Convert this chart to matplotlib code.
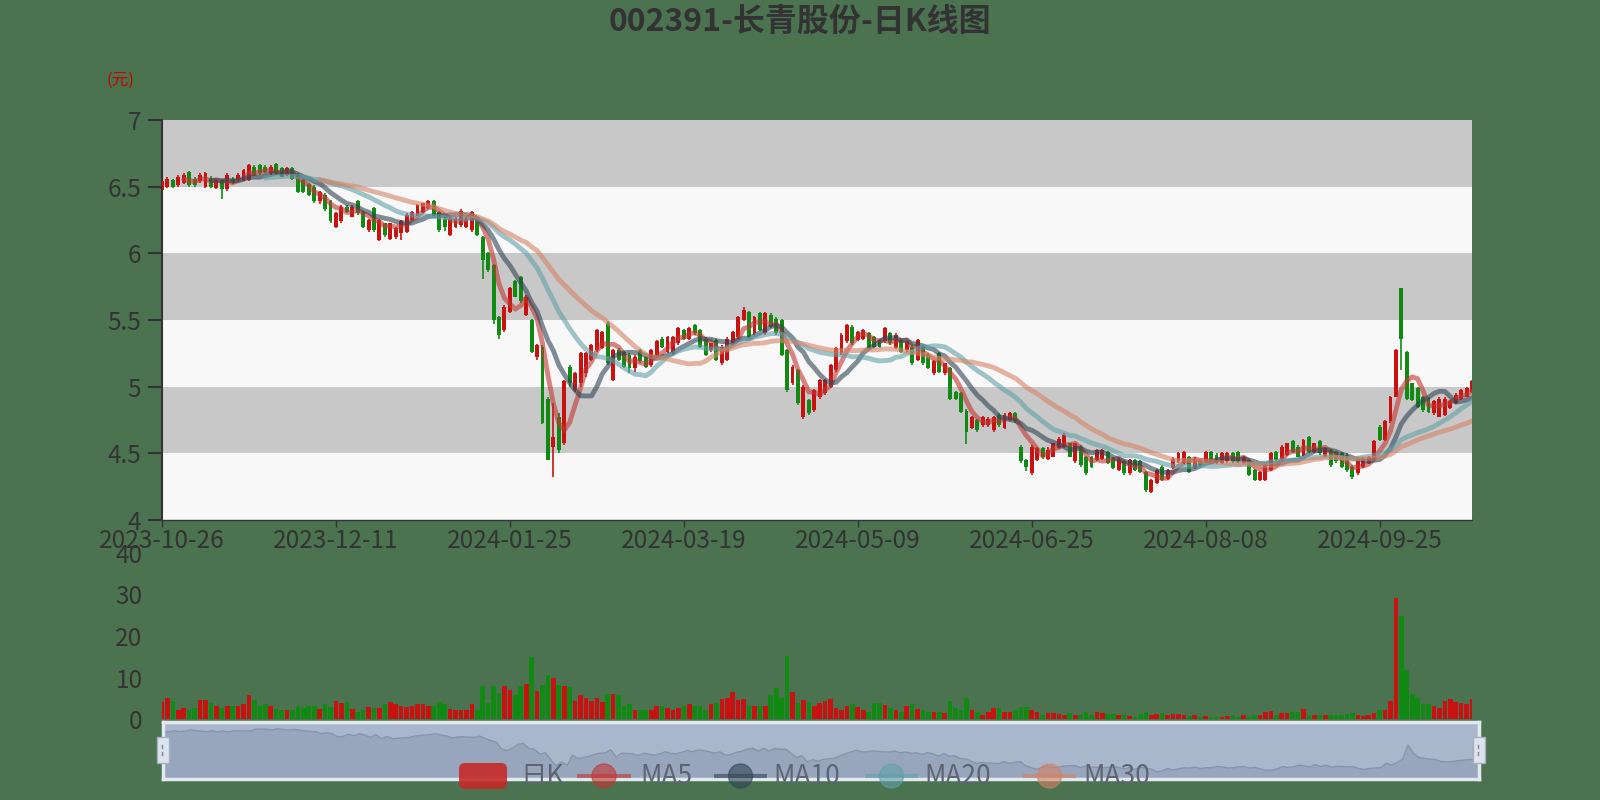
import numpy as np
import pandas as pd
import matplotlib
matplotlib.use('Agg')
import matplotlib.pyplot as plt
from matplotlib.patches import FancyBboxPatch, Rectangle, Circle

plt.rcParams['font.family'] = ['Noto Sans CJK SC', 'DejaVu Sans']

# ---------------- data ----------------
title = '002391-长青股份-日K线图'
unit_label = '(元)'
tick_labels = ['2023-10-26', '2023-12-11', '2024-01-25', '2024-03-19',
               '2024-05-09', '2024-06-25', '2024-08-08', '2024-09-25']
tick_step = 32
legend_names = ['日K', 'MA5', 'MA10', 'MA20', 'MA30']
ma_windows = [5, 10, 20, 30]

opens = [
    6.475, 6.50, 6.55, 6.51, 6.525, 6.61, 6.56, 6.54, 6.50, 6.56,
    6.49, 6.55, 6.48, 6.56, 6.55, 6.55, 6.55, 6.65, 6.66, 6.65,
    6.60, 6.67, 6.64, 6.59, 6.64, 6.59, 6.55, 6.52, 6.50, 6.39,
    6.44, 6.39, 6.20, 6.24, 6.35, 6.275, 6.39, 6.31, 6.175, 6.34,
    6.10, 6.225, 6.11, 6.125, 6.15, 6.16, 6.25, 6.29, 6.31, 6.34,
    6.39, 6.31, 6.26, 6.14, 6.20, 6.21, 6.20, 6.175, 6.25, 6.125,
    6.00, 5.91, 5.525, 5.425, 5.56, 5.79, 5.825, 5.54, 5.50, 5.225,
    5.30, 4.91, 4.55, 4.775, 4.575, 5.15, 4.975, 5.025, 5.10, 5.20,
    5.275, 5.29, 5.475, 5.05, 5.275, 5.26, 5.24, 5.14, 5.275, 5.225,
    5.16, 5.24, 5.36, 5.26, 5.25, 5.325, 5.425, 5.36, 5.46, 5.425,
    5.36, 5.275, 5.35, 5.175, 5.20, 5.325, 5.375, 5.50, 5.56, 5.40,
    5.55, 5.40, 5.54, 5.51, 5.50, 5.275, 5.025, 5.125, 4.775, 4.90,
    4.825, 4.925, 4.95, 5.00, 5.125, 5.25, 5.34, 5.45, 5.35, 5.36,
    5.40, 5.375, 5.35, 5.34, 5.40, 5.29, 5.35, 5.275, 5.30, 5.20,
    5.30, 5.24, 5.10, 5.25, 5.10, 5.14, 4.96, 4.95, 4.82, 4.69,
    4.75, 4.71, 4.71, 4.675, 4.79, 4.69, 4.75, 4.80, 4.55, 4.45,
    4.35, 4.45, 4.54, 4.46, 4.475, 4.54, 4.55, 4.575, 4.44, 4.55,
    4.475, 4.475, 4.45, 4.46, 4.51, 4.46, 4.375, 4.44, 4.35, 4.45,
    4.44, 4.36, 4.21, 4.275, 4.40, 4.31, 4.39, 4.44, 4.425, 4.475,
    4.39, 4.45, 4.44, 4.51, 4.49, 4.425, 4.44, 4.50, 4.51, 4.425,
    4.45, 4.375, 4.30, 4.30, 4.375, 4.51, 4.46, 4.49, 4.59, 4.55,
    4.49, 4.625, 4.51, 4.59, 4.475, 4.525, 4.51, 4.50, 4.49, 4.40,
    4.35, 4.40, 4.425, 4.45, 4.70, 4.60, 4.74, 4.925, 5.74, 5.26,
    5.025, 4.99, 4.925, 4.91, 4.80, 4.775, 4.79, 4.84, 4.875, 4.91,
    4.925, 4.96,
]
closes = [
    6.54, 6.56, 6.50, 6.575, 6.59, 6.51, 6.51, 6.59, 6.60, 6.50,
    6.55, 6.48, 6.59, 6.525, 6.59, 6.625, 6.66, 6.59, 6.60, 6.61,
    6.65, 6.60, 6.575, 6.64, 6.56, 6.46, 6.46, 6.44, 6.39, 6.46,
    6.33, 6.24, 6.30, 6.35, 6.31, 6.35, 6.30, 6.20, 6.25, 6.175,
    6.25, 6.14, 6.225, 6.19, 6.24, 6.29, 6.31, 6.36, 6.375, 6.39,
    6.29, 6.175, 6.20, 6.26, 6.26, 6.32, 6.26, 6.31, 6.14, 5.95,
    5.875, 5.50, 5.39, 5.60, 5.74, 5.675, 5.64, 5.675, 5.26, 5.31,
    4.73, 4.45, 4.62, 4.525, 5.04, 5.025, 5.10, 5.25, 5.25, 5.31,
    5.425, 5.41, 5.175, 5.275, 5.20, 5.15, 5.14, 5.22, 5.19, 5.15,
    5.275, 5.34, 5.30, 5.375, 5.375, 5.44, 5.36, 5.44, 5.40, 5.30,
    5.24, 5.325, 5.20, 5.30, 5.36, 5.41, 5.525, 5.575, 5.375, 5.525,
    5.425, 5.55, 5.45, 5.40, 5.24, 4.975, 5.15, 4.875, 5.00, 4.80,
    4.975, 5.05, 5.05, 5.16, 5.29, 5.39, 5.46, 5.325, 5.41, 5.425,
    5.29, 5.30, 5.30, 5.44, 5.325, 5.39, 5.26, 5.34, 5.175, 5.35,
    5.175, 5.14, 5.19, 5.11, 5.175, 4.91, 4.91, 4.81, 4.66, 4.775,
    4.675, 4.775, 4.76, 4.775, 4.71, 4.79, 4.80, 4.74, 4.44, 4.40,
    4.55, 4.54, 4.475, 4.525, 4.575, 4.61, 4.64, 4.475, 4.575, 4.41,
    4.35, 4.40, 4.525, 4.525, 4.425, 4.39, 4.46, 4.35, 4.45, 4.375,
    4.36, 4.225, 4.30, 4.375, 4.30, 4.375, 4.46, 4.50, 4.51, 4.36,
    4.46, 4.41, 4.51, 4.45, 4.425, 4.50, 4.50, 4.44, 4.44, 4.475,
    4.34, 4.30, 4.36, 4.41, 4.50, 4.45, 4.55, 4.575, 4.51, 4.475,
    4.60, 4.51, 4.575, 4.50, 4.54, 4.41, 4.44, 4.40, 4.375, 4.325,
    4.46, 4.46, 4.475, 4.59, 4.60, 4.74, 4.925, 5.275, 5.36, 4.91,
    4.90, 4.85, 4.825, 4.81, 4.89, 4.91, 4.91, 4.89, 4.94, 4.975,
    4.99, 5.04,
]
highs = [
    6.555, 6.57, 6.56, 6.585, 6.60, 6.62, 6.57, 6.60, 6.61, 6.58,
    6.56, 6.56, 6.60, 6.57, 6.60, 6.63, 6.67, 6.66, 6.67, 6.66,
    6.66, 6.68, 6.65, 6.65, 6.65, 6.60, 6.56, 6.53, 6.51, 6.47,
    6.45, 6.40, 6.31, 6.36, 6.36, 6.36, 6.40, 6.32, 6.26, 6.35,
    6.26, 6.23, 6.23, 6.20, 6.25, 6.30, 6.32, 6.37, 6.38, 6.40,
    6.40, 6.32, 6.27, 6.27, 6.27, 6.33, 6.27, 6.32, 6.26, 6.13,
    6.01, 5.92, 5.53, 5.61, 5.75, 5.80, 5.83, 5.69, 5.51, 5.32,
    5.31, 4.92, 4.875, 4.80, 5.05, 5.16, 5.11, 5.26, 5.26, 5.32,
    5.43, 5.42, 5.49, 5.28, 5.29, 5.27, 5.25, 5.24, 5.28, 5.23,
    5.28, 5.35, 5.37, 5.38, 5.38, 5.45, 5.43, 5.45, 5.47, 5.43,
    5.37, 5.33, 5.36, 5.31, 5.37, 5.42, 5.53, 5.60, 5.57, 5.53,
    5.56, 5.56, 5.55, 5.52, 5.51, 5.28, 5.16, 5.13, 5.01, 4.91,
    4.98, 5.06, 5.06, 5.17, 5.30, 5.40, 5.47, 5.46, 5.42, 5.43,
    5.41, 5.38, 5.36, 5.45, 5.41, 5.40, 5.36, 5.35, 5.31, 5.36,
    5.31, 5.25, 5.20, 5.26, 5.18, 5.15, 4.97, 4.96, 4.83, 4.78,
    4.76, 4.78, 4.77, 4.78, 4.80, 4.80, 4.81, 4.81, 4.56, 4.46,
    4.56, 4.55, 4.55, 4.55, 4.58, 4.62, 4.65, 4.58, 4.58, 4.56,
    4.48, 4.48, 4.53, 4.53, 4.52, 4.47, 4.47, 4.45, 4.46, 4.46,
    4.45, 4.37, 4.31, 4.38, 4.41, 4.38, 4.47, 4.51, 4.52, 4.48,
    4.47, 4.46, 4.52, 4.52, 4.50, 4.51, 4.51, 4.51, 4.52, 4.48,
    4.46, 4.38, 4.37, 4.42, 4.51, 4.52, 4.56, 4.58, 4.60, 4.56,
    4.61, 4.63, 4.58, 4.60, 4.55, 4.53, 4.52, 4.51, 4.50, 4.41,
    4.47, 4.47, 4.48, 4.60, 4.71, 4.75, 4.93, 5.28, 5.74, 5.27,
    5.03, 5.00, 4.93, 4.92, 4.90, 4.92, 4.92, 4.90, 4.95, 4.98,
    5.00, 5.05,
]
lows = [
    6.44, 6.49, 6.49, 6.50, 6.52, 6.50, 6.50, 6.53, 6.49, 6.49,
    6.48, 6.41, 6.47, 6.52, 6.54, 6.54, 6.54, 6.58, 6.59, 6.60,
    6.59, 6.59, 6.57, 6.58, 6.55, 6.45, 6.45, 6.43, 6.38, 6.37,
    6.32, 6.23, 6.19, 6.23, 6.30, 6.27, 6.29, 6.19, 6.16, 6.16,
    6.09, 6.12, 6.10, 6.11, 6.10, 6.15, 6.24, 6.28, 6.30, 6.33,
    6.28, 6.16, 6.17, 6.13, 6.19, 6.20, 6.19, 6.16, 6.13, 5.81,
    5.86, 5.47, 5.36, 5.41, 5.55, 5.67, 5.63, 5.53, 5.25, 5.20,
    4.72, 4.45, 4.32, 4.50, 4.56, 5.00, 4.96, 5.00, 5.07, 5.19,
    5.26, 5.28, 5.16, 5.04, 5.19, 5.14, 5.10, 5.11, 5.18, 5.14,
    5.15, 5.23, 5.29, 5.25, 5.24, 5.31, 5.35, 5.35, 5.39, 5.29,
    5.23, 5.26, 5.19, 5.16, 5.19, 5.31, 5.36, 5.49, 5.36, 5.39,
    5.42, 5.39, 5.44, 5.39, 5.23, 4.96, 5.01, 4.86, 4.76, 4.79,
    4.81, 4.91, 4.94, 4.99, 5.11, 5.24, 5.33, 5.31, 5.34, 5.35,
    5.28, 5.29, 5.29, 5.33, 5.31, 5.28, 5.25, 5.26, 5.16, 5.19,
    5.16, 5.13, 5.09, 5.10, 5.09, 4.90, 4.90, 4.80, 4.57, 4.68,
    4.66, 4.70, 4.70, 4.66, 4.70, 4.68, 4.74, 4.73, 4.43, 4.37,
    4.34, 4.44, 4.46, 4.45, 4.47, 4.53, 4.54, 4.47, 4.43, 4.40,
    4.34, 4.39, 4.44, 4.45, 4.42, 4.38, 4.37, 4.34, 4.34, 4.37,
    4.35, 4.21, 4.20, 4.27, 4.29, 4.30, 4.38, 4.43, 4.42, 4.35,
    4.38, 4.40, 4.43, 4.44, 4.42, 4.42, 4.43, 4.43, 4.43, 4.42,
    4.33, 4.29, 4.29, 4.29, 4.37, 4.44, 4.45, 4.48, 4.50, 4.47,
    4.48, 4.50, 4.50, 4.49, 4.47, 4.40, 4.43, 4.39, 4.36, 4.31,
    4.34, 4.39, 4.42, 4.44, 4.59, 4.59, 4.73, 4.92, 5.125, 4.90,
    4.89, 4.84, 4.81, 4.80, 4.79, 4.77, 4.78, 4.83, 4.87, 4.90,
    4.92, 4.95,
]
volumes = [
    4.1, 5.1, 4.3, 2.2, 2.7, 2.2, 2.7, 4.5, 4.5, 3.9,
    3.1, 2.7, 3.2, 3.1, 3.2, 3.7, 5.7, 4.5, 3.1, 3.5,
    3.1, 2.4, 2.2, 2.2, 2.1, 3.2, 2.7, 3.1, 3.2, 2.4,
    3.7, 2.9, 4.3, 3.9, 4.0, 2.4, 1.8, 2.2, 2.9, 2.7,
    2.7, 3.7, 4.0, 3.7, 3.2, 2.9, 3.2, 3.5, 3.5, 3.2,
    3.1, 4.0, 3.7, 2.4, 2.2, 2.2, 2.2, 3.5, 2.2, 7.9,
    3.9, 8.0, 6.3, 8.0, 6.9, 5.9, 7.9, 8.5, 14.9, 6.7,
    8.3, 10.7, 9.9, 8.3, 7.9, 7.7, 4.3, 5.9, 5.1, 4.3,
    5.1, 4.0, 6.1, 6.1, 5.9, 3.1, 3.5, 2.2, 2.2, 2.2,
    2.2, 3.2, 3.1, 2.7, 2.2, 2.7, 3.2, 3.5, 3.2, 3.1,
    2.2, 3.5, 3.9, 4.8, 5.1, 6.4, 4.5, 4.7, 3.1, 3.1,
    3.1, 3.1, 5.9, 7.5, 5.1, 15.1, 6.4, 3.9, 4.5, 4.0,
    3.2, 3.9, 4.3, 4.7, 2.7, 2.2, 3.1, 3.5, 2.9, 2.1,
    1.6, 3.9, 3.9, 3.3, 2.7, 2.2, 1.8, 3.2, 3.5, 2.4,
    2.1, 1.8, 1.6, 1.8, 1.4, 4.4, 2.7, 2.2, 5.1, 2.2,
    1.8, 1.0, 1.8, 2.7, 2.7, 1.6, 1.6, 2.2, 2.9, 2.9,
    2.2, 1.6, 1.0, 1.4, 1.4, 1.3, 1.0, 1.4, 1.0, 1.0,
    1.6, 1.0, 1.6, 1.4, 1.2, 1.2, 1.0, 1.0, 0.8, 0.6,
    1.2, 1.8, 1.0, 1.2, 1.4, 1.0, 1.3, 1.2, 1.0, 0.8,
    0.9, 0.6, 0.8, 0.6, 0.6, 0.6, 0.8, 1.0, 0.6, 1.0,
    0.8, 1.0, 1.0, 1.8, 2.0, 1.0, 1.4, 1.4, 1.6, 1.8,
    2.4, 1.0, 1.0, 0.9, 1.0, 1.0, 1.0, 1.0, 1.3, 1.4,
    1.0, 0.8, 1.0, 1.4, 2.1, 2.2, 4.3, 29.2, 24.9, 11.9,
    6.1, 5.1, 3.7, 3.5, 3.2, 2.7, 4.3, 4.7, 4.0, 3.9,
    3.5, 4.7,
]

# ---------------- style ----------------
BG = '#4b7350'
UP = '#c81212'
DOWN = '#118a14'
BAND_GRAY = '#c8c8c8'
BAND_WHITE = '#f8f8f8'
MA_COLORS = ['#c23531', '#2f4554', '#61a0a8', '#d48265']
TXT = '#333333'

W, H = 1600, 800


def frac(x0, y0, x1, y1):
    return [x0 / W, 1 - y1 / H, (x1 - x0) / W, (y1 - y0) / H]


o = np.array(opens)
c = np.array(closes)
hi = np.array(highs)
lo = np.array(lows)
v = np.array(volumes)
n = len(c)
assert len(o) == n and len(hi) == n and len(lo) == n and len(v) == n, (len(o), len(c), len(hi), len(lo), len(v))
x = np.arange(n)
up = c >= o
cols = np.where(up, UP, DOWN)

fig = plt.figure(figsize=(16, 8), dpi=100, facecolor=BG)

# ---------------- main candlestick axes ----------------
ax = fig.add_axes(frac(162, 120, 1472, 520))
ax.set_xlim(0, n - 1)
ax.set_ylim(4, 7)
for k, base in enumerate(np.arange(4, 7, 0.5)):
    ax.axhspan(base, base + 0.5, color=BAND_GRAY if k % 2 else BAND_WHITE, lw=0, zorder=0)

ax.vlines(x, lo, hi, colors=cols, lw=1.2, zorder=2)
ax.bar(x, np.maximum(np.abs(c - o), 0.006), bottom=np.minimum(o, c), width=0.72,
       color=cols, linewidth=0, zorder=3)

s = pd.Series(c)
for w, mc in zip(ma_windows, MA_COLORS):
    ax.plot(x, s.rolling(w).mean(), color=mc, lw=3.5, alpha=0.6, zorder=4,
            solid_capstyle='round', solid_joinstyle='round')

for side in ('top', 'right'):
    ax.spines[side].set_visible(False)
ax.spines['left'].set_color(TXT)
ax.spines['left'].set_linewidth(1.5)
ax.spines['bottom'].set_color(TXT)
ax.spines['bottom'].set_linewidth(1.0)
yt = np.arange(4, 7.01, 0.5)
ax.set_yticks(yt)
ax.set_yticklabels([f'{t:g}' for t in yt])
ax.tick_params(axis='y', length=10, width=1.5, color=TXT, labelsize=17.5,
               labelcolor=TXT, pad=5)
ax.set_xticks(np.arange(0, n, tick_step)[:len(tick_labels)])
ax.set_xticklabels(tick_labels)
ax.tick_params(axis='x', length=5, width=1, color=TXT, labelsize=17.5,
               labelcolor=TXT, pad=1)

# ---------------- volume axes ----------------
axv = fig.add_axes(frac(162, 553, 1472, 719))
axv.patch.set_alpha(0)
axv.bar(x, v, width=0.85, color=cols, linewidth=0)
axv.set_xlim(0, n - 1)
axv.set_ylim(0, 40)
axv.set_yticks([0, 10, 20, 30, 40])
axv.set_xticks([])
for sp in axv.spines.values():
    sp.set_visible(False)
axv.tick_params(axis='y', length=0, labelsize=17.5, labelcolor=TXT, pad=14)

# ---------------- data zoom slider ----------------
axs = fig.add_axes(frac(163, 722, 1479, 779))
axs.set_facecolor('#a9b7cd')
axs.fill_between(x, o, 3.8, color='#98a6bd', lw=0)
axs.plot(x, o, color='#8694ab', lw=1)
axs.set_xlim(0, n - 1)
axs.set_ylim(3.8, 7.06)
axs.set_xticks([])
axs.set_yticks([])
for sp in axs.spines.values():
    sp.set_color('#e3e8f0')
    sp.set_linewidth(2.5)

# ---------------- overlay: title, unit, handles, legend ----------------
axo = fig.add_axes([0, 0, 1, 1], zorder=10)
axo.set_xlim(0, W)
axo.set_ylim(H, 0)
axo.axis('off')
axo.patch.set_alpha(0)

axo.text(800, 22, title, ha='center', va='center', fontsize=23,
         fontweight='bold', color=TXT)
axo.text(120, 80, unit_label, ha='center', va='center', fontsize=12, color='#cc0000')

for hx in (163, 1479):
    axo.add_patch(Rectangle((hx - 6, 737), 12, 26, fc='#dfe4ec', ec='#a3afc2', lw=1))
    axo.plot([hx - 1, hx - 1], [745, 748], color='#7a869a', lw=1)
    axo.plot([hx - 1, hx - 1], [752, 755], color='#7a869a', lw=1)

LEG_Y = 776
LEG_TXT = '#5d6572'
axo.add_patch(FancyBboxPatch((459, LEG_Y - 13), 48, 26,
                             boxstyle='round,pad=0,rounding_size=6',
                             fc='#c62a28', ec='none', alpha=0.9))
axo.text(520, LEG_Y, legend_names[0], ha='left', va='center', fontsize=19, color=LEG_TXT)
icon_spans = [(577, 631, 640), (714, 767, 773), (865, 918, 924), (1023, 1076, 1083)]
for (x0, x1, tx), name, mc in zip(icon_spans, legend_names[1:], MA_COLORS):
    axo.plot([x0, x1], [LEG_Y, LEG_Y], color=mc, lw=3, alpha=0.6, solid_capstyle='butt')
    axo.add_patch(Circle(((x0 + x1) / 2, LEG_Y), 12, fc=mc, ec=mc, alpha=0.6, lw=1))
    axo.text(tx, LEG_Y, name, ha='left', va='center', fontsize=19, color=LEG_TXT)

fig.savefig('out.png', dpi=100, facecolor=BG)
